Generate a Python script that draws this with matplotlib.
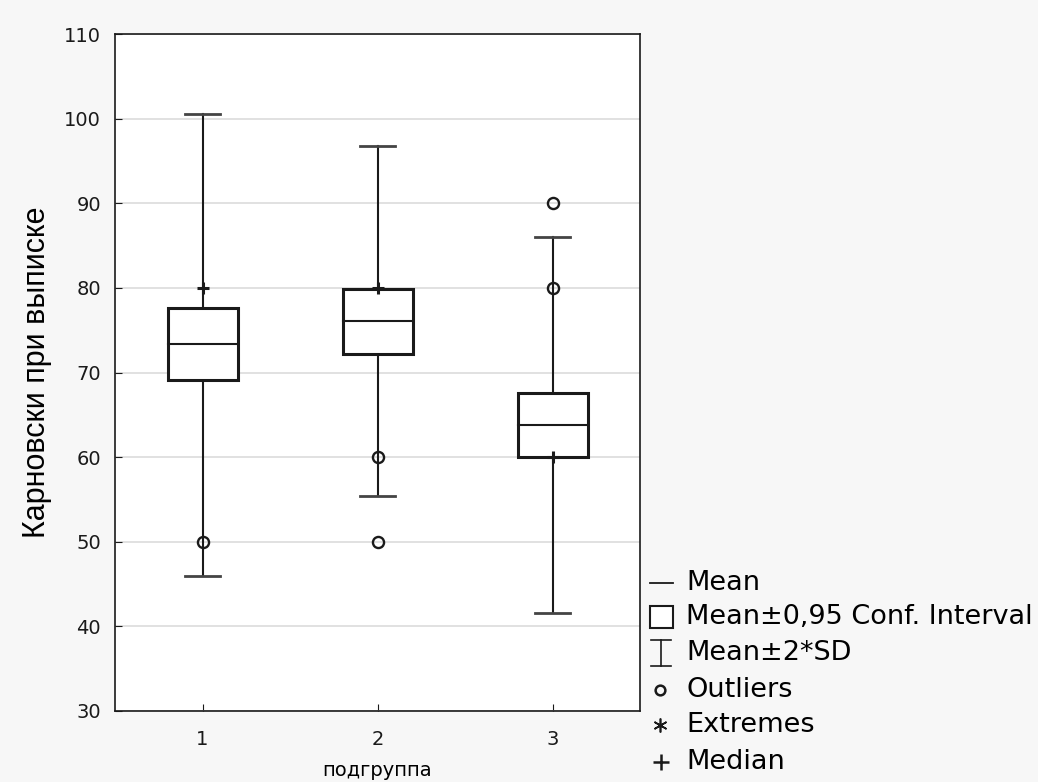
import matplotlib.pyplot as plt
from matplotlib.patches import Rectangle
from matplotlib.lines import Line2D

plt.rcParams['font.family'] = ['DejaVu Sans']

# data
groups = [1, 2, 3]
means = [73.4, 76.05, 63.8]
ci_low = [69.1, 72.2, 60.05]
ci_high = [77.65, 79.9, 67.6]
sd2_low = [46.0, 55.35, 41.55]
sd2_high = [100.6, 96.8, 86.0]
medians = [80, 80, 60]
outliers = [[50], [60, 50], [90, 80]]

legend_labels = ['Mean', 'Mean±0,95 Conf. Interval', 'Mean±2*SD',
                 'Outliers', 'Extremes', 'Median']

ink = '#1a1a1a'

fig = plt.figure(figsize=(10.38, 7.82), dpi=100, facecolor='#f7f7f7')
ax = fig.add_axes([115 / 1038, 71 / 782, 525 / 1038, 677 / 782])
ax.set_facecolor('white')

box_w = 0.4
cap_w = 0.2
for g, m, lo, hi, wlo, whi, med, outs in zip(groups, means, ci_low, ci_high,
                                             sd2_low, sd2_high, medians, outliers):
    # whiskers (mean +- 2SD)
    ax.plot([g, g], [hi, whi], color=ink, lw=1.5, zorder=3)
    ax.plot([g, g], [wlo, lo], color=ink, lw=1.5, zorder=3)
    ax.plot([g - cap_w / 2, g + cap_w / 2], [whi, whi], color='#444444', lw=2, zorder=3)
    ax.plot([g - cap_w / 2, g + cap_w / 2], [wlo, wlo], color='#444444', lw=2, zorder=3)
    # CI box
    ax.add_patch(Rectangle((g - box_w / 2, lo), box_w, hi - lo, facecolor='white',
                           edgecolor=ink, lw=2.2, zorder=4))
    ax.plot([g - box_w / 2, g + box_w / 2], [m, m], color=ink, lw=1.5, zorder=5)
    # outliers and median
    ax.plot([g] * len(outs), outs, 'o', ms=8, mfc='none', mec=ink, mew=1.7, zorder=6)
    ax.plot(g, med, '+', ms=9, mec=ink, mew=2.2, zorder=7)

ax.set_xlim(0.5, 3.5)
ax.set_ylim(30, 110)
ax.set_xticks(groups)
ax.set_yticks(range(30, 111, 10))
ax.yaxis.grid(True, color='#dcdcdc', lw=1.2)
ax.set_axisbelow(True)
ax.tick_params(direction='in', length=5, labelsize=14, colors=ink, pad=10)
ax.tick_params(axis='x', pad=14)
for s in ax.spines.values():
    s.set_color(ink)
    s.set_linewidth(1.2)
ax.set_xlabel('подгруппа', fontsize=14, va='center')
ax.xaxis.set_label_coords(0.5, -0.088)
ax.set_ylabel('Карновски при выписке', family='Liberation Sans', fontsize=22, va='center')
ax.yaxis.set_label_coords(-0.148, 0.5)

# legend drawn in pixel coords on an overlay
lx = fig.add_axes([0, 0, 1, 1], facecolor='none')
lx.set_xlim(0, 1038)
lx.set_ylim(782, 0)
lx.axis('off')
rows = [583, 617, 653, 690, 725, 762]
lx.add_line(Line2D([650, 673], [rows[0], rows[0]], color=ink, lw=1.3))
lx.add_patch(Rectangle((650, rows[1] - 11), 23, 22, facecolor='white', edgecolor=ink, lw=1.5))
lx.add_line(Line2D([661, 661], [rows[2] - 13, rows[2] + 13], color=ink, lw=1.2))
lx.add_line(Line2D([651, 671], [rows[2] - 13, rows[2] - 13], color=ink, lw=1.2))
lx.add_line(Line2D([651, 671], [rows[2] + 13, rows[2] + 13], color=ink, lw=1.2))
lx.plot(660, rows[3], 'o', ms=7, mfc='none', mec=ink, mew=1.8)
lx.plot(660, rows[4], marker=(6, 2, 0), ms=10, mec=ink, mew=1.2)
lx.plot(661, rows[5], '+', ms=11, mec=ink, mew=1.8)
for y, lab in zip(rows, legend_labels):
    lx.text(686, y, lab, fontsize=19.5, va='center', ha='left', color='black')

fig.savefig('out.png', dpi=100, facecolor=fig.get_facecolor())
